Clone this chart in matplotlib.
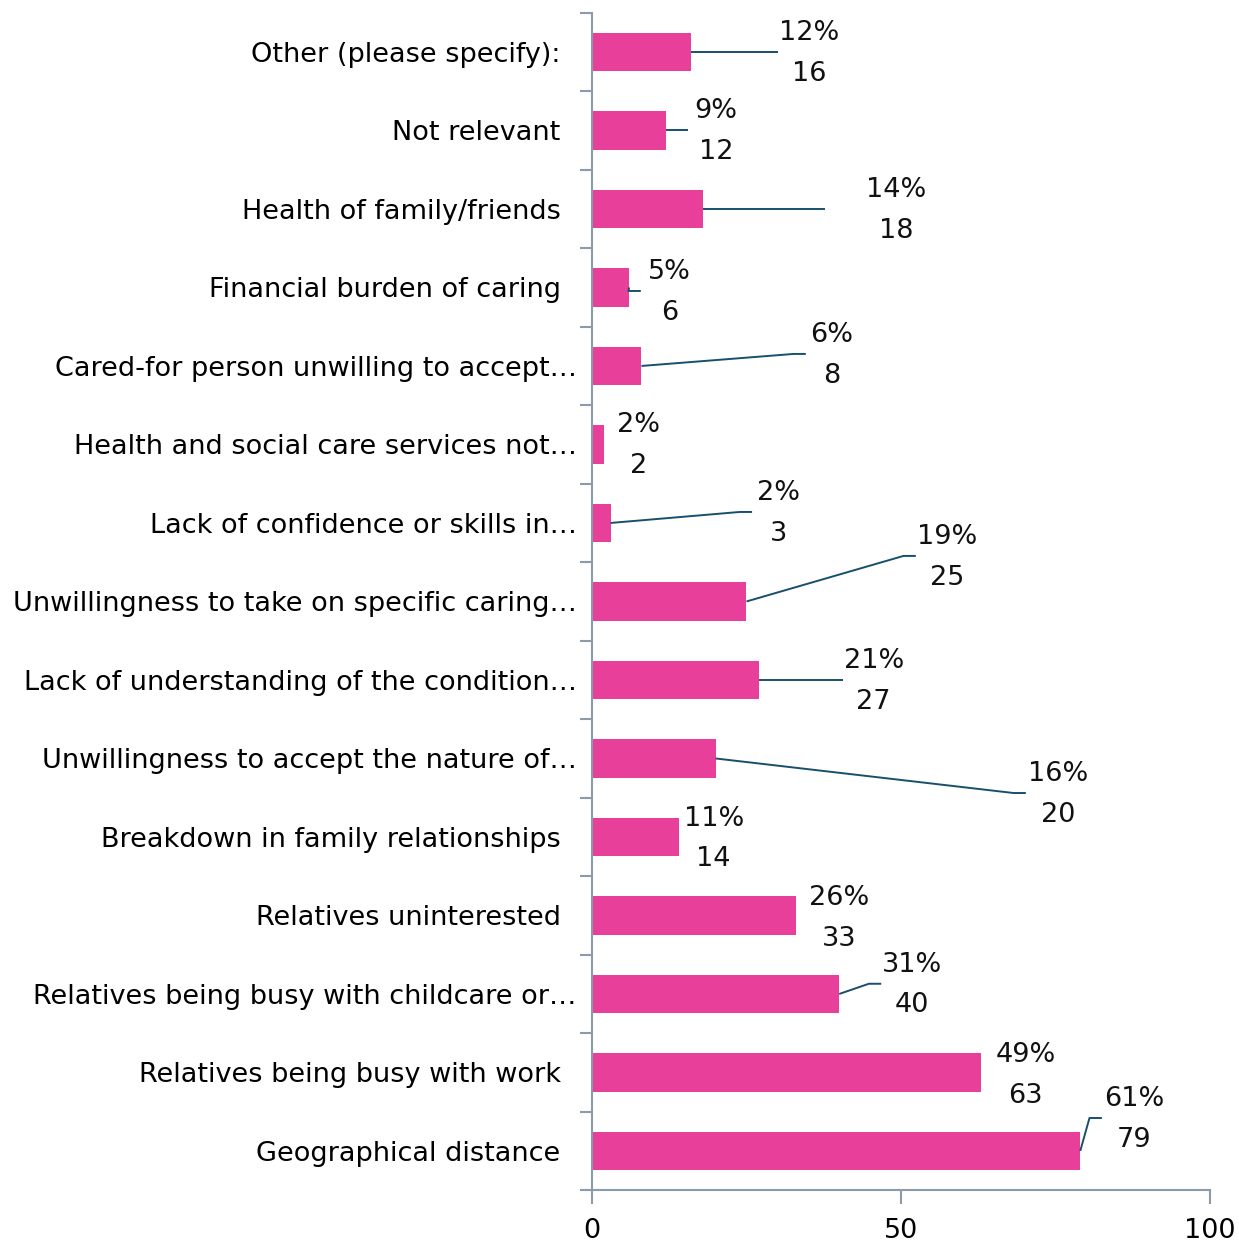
import matplotlib.pyplot as plt
from matplotlib.transforms import ScaledTranslation

# survey responses, top row first
categories = ['Other (please specify):', 'Not relevant', 'Health of family/friends',
              'Financial burden of caring', 'Cared-for person unwilling to accept…',
              'Health and social care services not…', 'Lack of confidence or skills in…',
              'Unwillingness to take on specific caring…', 'Lack of understanding of the condition…',
              'Unwillingness to accept the nature of…', 'Breakdown in family relationships',
              'Relatives uninterested', 'Relatives being busy with childcare or…',
              'Relatives being busy with work', 'Geographical distance']
counts = [16, 12, 18, 6, 8, 2, 3, 25, 27, 20, 14, 33, 40, 63, 79]
percents = [12, 9, 14, 5, 6, 2, 2, 19, 21, 16, 11, 26, 31, 49, 61]

# label layout: centre x (data units), vertical shift (rows), leader end x (None = no leader)
lab_x = [35.1, 20.1, 49.2, 12.6, 38.8, 7.6, 30.1, 57.4, 45.6, 75.4, 19.7, 40.0, 51.8, 70.2, 87.7]
lab_dy = [0.0, 0.0, 0.0, 0.045, -0.153, 0.0, -0.14, -0.58, 0.0, 0.44, 0.01, 0.02, -0.13, 0.02, -0.42]
lead_end = [30.1, 15.5, 37.7, 7.9, 34.6, None, 25.9, 52.4, 40.6, 70.2, None, None, 46.8, None, 82.5]

pink = '#E8409A'
lead_col = '#17506D'
axis_col = '#8C9BAB'
fs = 19.5
plt.rcParams['font.family'] = 'DejaVu Sans'

fig = plt.figure(figsize=(12.39, 12.45), dpi=100)
ax = fig.add_axes([0.4778, 0.0440, 0.4988, 0.9458])

y = list(range(len(categories)))
ax.barh(y, counts, height=0.49, color=pink, zorder=2)
ax.set_ylim(len(categories) - 0.5, -0.5)
ax.set_xlim(0, 100)

for i in y:
    ly = i + lab_dy[i]
    ax.text(lab_x[i], ly - 0.245, f'{percents[i]}%', ha='center', va='center', fontsize=fs, color='#111111')
    ax.text(lab_x[i], ly + 0.275, f'{counts[i]}', ha='center', va='center', fontsize=fs, color='#111111')
    if lead_end[i] is not None:
        ax.plot([counts[i], lead_end[i] - 2, lead_end[i]], [i, ly, ly],
                color=lead_col, lw=1.4, zorder=3, solid_capstyle='butt')

# axes styling
for s in ['top', 'right']:
    ax.spines[s].set_visible(False)
for s in ['left', 'bottom']:
    ax.spines[s].set_color(axis_col)
    ax.spines[s].set_linewidth(1.5)

ax.set_xticks([0, 50, 100])
ax.tick_params(axis='x', length=10, width=1.5, color=axis_col, labelsize=fs, pad=10)
ax.set_yticks(y)
ax.set_yticklabels(categories)
ax.set_yticks([i - 0.5 for i in range(len(categories) + 1)], minor=True)
ax.tick_params(axis='y', which='major', length=0, labelsize=fs, pad=32)
ax.tick_params(axis='y', which='minor', length=9, width=1.5, color=axis_col)

# truncated labels sit a little closer to the axis
for lbl in ax.get_yticklabels():
    shift = 29 if lbl.get_text().endswith('…') else 13
    lbl.set_transform(lbl.get_transform() + ScaledTranslation(shift / 100, 0, fig.dpi_scale_trans))

fig.savefig('out.png', dpi=100)
